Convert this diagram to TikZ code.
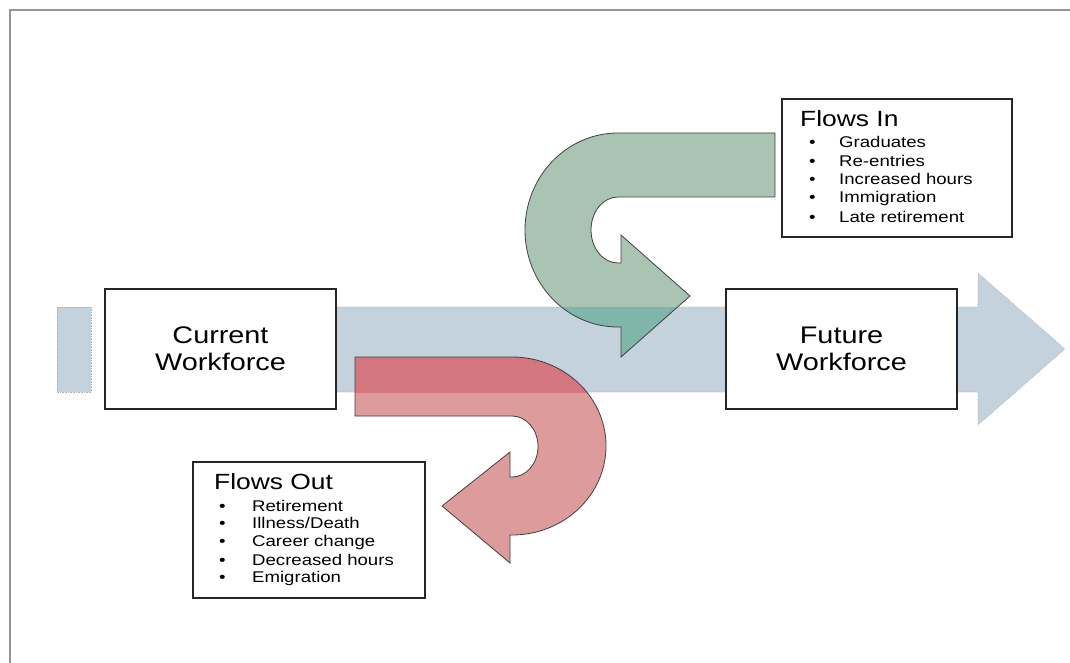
\documentclass[tikz,border=0pt]{standalone}
\usepackage{fontspec}
\setmainfont{Liberation Sans}[FakeStretch=1.2]
\usetikzlibrary{calc}
\definecolor{framegray}{RGB}{150,150,150}
\definecolor{bandblue}{RGB}{196,210,222}
\definecolor{ingreen}{RGB}{170,196,180}
\definecolor{inteal}{RGB}{128,181,169}
\definecolor{outred}{RGB}{221,155,155}
\definecolor{outdark}{RGB}{211,118,128}

\tikzset{
  wfbox/.style={draw=black!85, line width=1.4pt, fill=white, inner sep=0pt,
    minimum width=231pt, minimum height=120pt, align=center,
    font=\fontsize{24}{27}\selectfont},
  listbox/.style={draw=black!85, line width=1.2pt, fill=white, inner sep=0pt},
  flowtitle/.style={font=\fontsize{22}{24}\selectfont, anchor=west, inner sep=0pt},
  flowitem/.style={font=\fontsize{15.5}{18}\selectfont, anchor=west, inner sep=0pt},
  arrowline/.style={draw=black!75, line width=0.8pt},
  bandline/.style={draw=gray!60, densely dotted, line width=0.6pt},
}

\newcommand{\flowinpath}{(775,133) -- (618,133)
  arc[start angle=270, end angle=90, x radius=93, y radius=97]
  -- (621,327) -- (621,357) -- (690,296) -- (621,235) -- (621,263) -- (618,263)
  arc[start angle=90, end angle=270, x radius=27, y radius=33]
  -- (775,197) -- cycle}
\newcommand{\flowoutpath}{(355,357) -- (512,357)
  arc[start angle=270, end angle=450, x radius=94, y radius=89]
  -- (510,535) -- (510,563) -- (442,506) -- (510,452) -- (510,477) -- (512,477)
  arc[start angle=90, end angle=-90, x radius=26, y radius=30.5]
  -- (355,416) -- cycle}

\begin{document}
\begin{tikzpicture}[x=1pt, y=-1pt]
    \useasboundingbox (0,0) rectangle (1070,663);

    % Frame
    \draw[framegray, line width=2.5pt] (1075,10) -- (10,10) -- (10,670);

    % Band arrow
    \fill[bandblue] (57,307) rectangle (91,392);
    \draw[bandline] (57,307) rectangle (91,392);
    \fill[bandblue] (105,307) -- (978,307) -- (978,273) -- (1065,349)
        -- (978,425) -- (978,392) -- (105,392) -- cycle;
    \draw[bandline] (105,307) -- (978,307) -- (978,273) -- (1065,349)
        -- (978,425) -- (978,392) -- (105,392);

    % Workforce boxes
    \node[wfbox] (current) at (220.5,349) {Current\\Workforce};
    \node[wfbox] (future) at (841.5,349) {Future\\Workforce};

    % Flows in arrow
    \fill[ingreen] \flowinpath;
    \begin{scope}
        \clip (57,307) rectangle (978,392);
        \fill[inteal] \flowinpath;
    \end{scope}
    \draw[arrowline] \flowinpath;

    % Flows out arrow
    \fill[outred] \flowoutpath;
    \begin{scope}
        \clip (57,307) rectangle (978,392);
        \fill[outdark] \flowoutpath;
    \end{scope}
    \draw[arrowline] \flowoutpath;

    % Flows in list
    \node[listbox, minimum width=230pt, minimum height=138pt] (inbox) at (897,168) {};
    \node[flowtitle] (intitle) at (800,119) {Flows In};
    \node[flowitem] (in1) at (809,142) {\makebox[30pt][l]{\textbullet}Graduates};
    \node[flowitem] (in2) at (809,161) {\makebox[30pt][l]{\textbullet}Re-entries};
    \node[flowitem] (in3) at (809,179) {\makebox[30pt][l]{\textbullet}Increased hours};
    \node[flowitem] (in4) at (809,198) {\makebox[30pt][l]{\textbullet}Immigration};
    \node[flowitem] (in5) at (809,217) {\makebox[30pt][l]{\textbullet}Late retirement};

    % Flows out list
    \node[listbox, minimum width=232pt, minimum height=136pt] (outbox) at (309,530) {};
    \node[flowtitle] (outtitle) at (214,482) {Flows Out};
    \node[flowitem] (out1) at (219,506) {\makebox[33pt][l]{\textbullet}Retirement};
    \node[flowitem] (out2) at (219,523) {\makebox[33pt][l]{\textbullet}Illness/Death};
    \node[flowitem] (out3) at (219,542) {\makebox[33pt][l]{\textbullet}Career change};
    \node[flowitem] (out4) at (219,560) {\makebox[33pt][l]{\textbullet}Decreased hours};
    \node[flowitem] (out5) at (219,578) {\makebox[33pt][l]{\textbullet}Emigration};
\end{tikzpicture}
\end{document}
